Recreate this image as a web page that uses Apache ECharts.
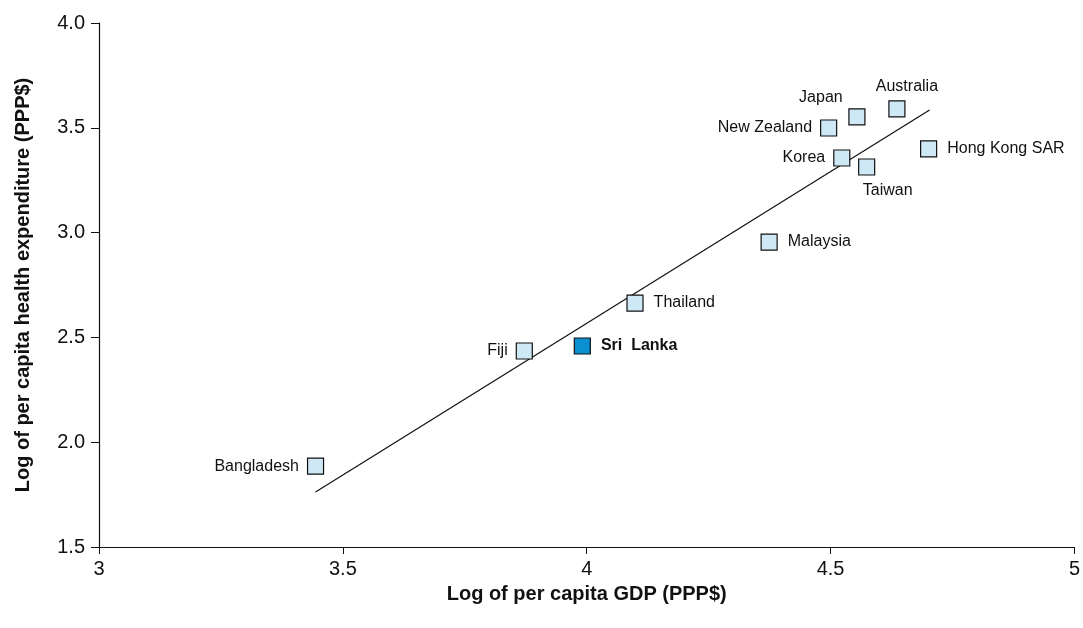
<!DOCTYPE html>
<html><head><meta charset="utf-8">
<script src="https://cdn.jsdelivr.net/npm/echarts@6/dist/echarts.min.js"></script>
<style>html,body{margin:0;padding:0;background:#fff}#c{width:1083px;height:628px}</style>
</head><body><div id="c"></div>
<script>
const countries = ['Bangladesh','Fiji','Sri Lanka','Thailand','Malaysia','Korea','Taiwan','New Zealand','Japan','Australia','Hong Kong SAR'];
const gdpLog = [3.444, 3.872, 3.991, 4.099, 4.374, 4.523, 4.574, 4.496, 4.554, 4.636, 4.701];
const healthLog = [1.886, 2.435, 2.459, 2.664, 2.955, 3.356, 3.313, 3.499, 3.552, 3.590, 3.399];
const labelPos = ['left','left','right','right','right','left','bottomRight','left','topLeft','top','right'];
const trendX = [3.444, 4.703];
const trendY = [1.762, 3.585];

const posStyle = {
  left: {position:'left', distance:8},
  right: {position:'right', distance:10},
  top: {position:'top', distance:6, offset:[10,0]},
  topLeft: {position:'top', distance:5, offset:[-36,2]},
  bottomRight: {position:'bottom', distance:7, offset:[21,0]}
};

const pts = countries.map((c,i)=>{
  const hi = c === 'Sri Lanka';
  return {
    name: c,
    value: [gdpLog[i], healthLog[i]],
    itemStyle: {color: hi ? '#0a8fd0' : '#cfe8f6', borderColor:'#111', borderWidth:1.2, opacity:1},
    label: Object.assign({show:true, color:'#111', fontSize:16, formatter: hi ? 'Sri  Lanka' : c, fontWeight: hi ? 'bold':'normal'}, posStyle[labelPos[i]])
  };
});

const chart = echarts.init(document.getElementById('c'));
chart.setOption({
  animation:false,
  textStyle:{fontFamily:'Liberation Sans, Arial, sans-serif'},
  grid:{left:99, right:7, top:23, bottom:81},
  xAxis:{type:'value', min:3, max:5, interval:0.5,
    axisLine:{show:true, lineStyle:{color:'#111', width:1.2}},
    axisTick:{show:true, length:7, lineStyle:{color:'#111'}},
    splitLine:{show:false},
    axisLabel:{fontSize:20, color:'#111', margin:12, formatter:v=>String(v)},
    name:'Log of per capita GDP (PPP$)', nameLocation:'middle', nameGap:37,
    nameTextStyle:{fontSize:20, fontWeight:'bold', color:'#111'}},
  yAxis:{type:'value', min:1.5, max:4.0, interval:0.5,
    axisLine:{show:true, lineStyle:{color:'#111', width:1.2}},
    axisTick:{show:true, length:8, lineStyle:{color:'#111'}},
    splitLine:{show:false},
    axisLabel:{fontSize:20, color:'#111', margin:14, formatter:v=>v.toFixed(1)},
    name:'Log of per capita health expenditure (PPP$)', nameLocation:'middle', nameGap:66,
    nameTextStyle:{fontSize:20, fontWeight:'bold', color:'#111'}},
  series:[
    {type:'line', data:trendX.map((x,i)=>[x,trendY[i]]), symbol:'none',
     lineStyle:{color:'#111', width:1.2}, z:1},
    {type:'scatter', data:pts, symbol:'rect', symbolSize:16, z:2}
  ]
});
</script></body></html>
